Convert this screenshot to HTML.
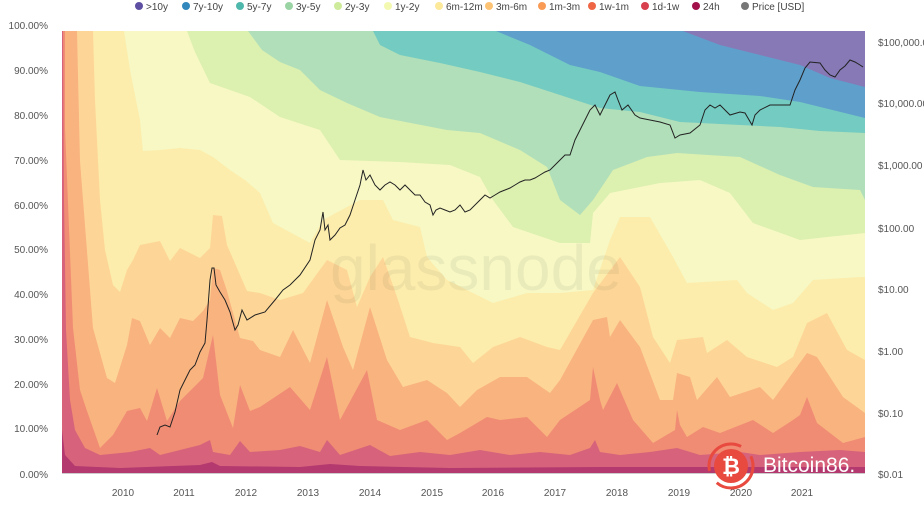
<!DOCTYPE html>
<html><head><meta charset="utf-8"><style>
body{margin:0;background:#fff;width:924px;height:512px;overflow:hidden;font-family:"Liberation Sans",sans-serif}
svg text{font-family:"Liberation Sans",sans-serif}
</style></head><body>
<svg width="924" height="512" viewBox="0 0 924 512" xmlns="http://www.w3.org/2000/svg">
<g font-size="10" fill="#444">
<circle cx="139" cy="6" r="4" fill="#5e4fa2"/><text x="146" y="10">&gt;10y</text>
<circle cx="186" cy="6" r="4" fill="#3288bd"/><text x="193" y="10">7y-10y</text>
<circle cx="240" cy="6" r="4" fill="#4fb8ad"/><text x="247" y="10">5y-7y</text>
<circle cx="289" cy="6" r="4" fill="#9ad4a4"/><text x="296" y="10">3y-5y</text>
<circle cx="338" cy="6" r="4" fill="#cdeb9a"/><text x="345" y="10">2y-3y</text>
<circle cx="388" cy="6" r="4" fill="#f3f9b0"/><text x="395" y="10">1y-2y</text>
<circle cx="439" cy="6" r="4" fill="#fde99a"/><text x="446" y="10">6m-12m</text>
<circle cx="489" cy="6" r="4" fill="#fdc374"/><text x="496" y="10">3m-6m</text>
<circle cx="542" cy="6" r="4" fill="#f99a55"/><text x="549" y="10">1m-3m</text>
<circle cx="592" cy="6" r="4" fill="#ef6645"/><text x="599" y="10">1w-1m</text>
<circle cx="645" cy="6" r="4" fill="#d8404e"/><text x="652" y="10">1d-1w</text>
<circle cx="696" cy="6" r="4" fill="#a3114a"/><text x="703" y="10">24h</text>
<circle cx="745" cy="6" r="4" fill="#777"/><text x="752" y="10">Price [USD]</text>
</g>
<rect x="62" y="31" width="803" height="442" fill="#8679b6"/>
<polygon fill="#5f9fcb" points="62,31 683,31 720,45 760,55 800,65 830,78 865,87 865,473 62,473"/>
<polygon fill="#74cbc1" points="62,31 496,31 530,45 570,65 600,72 640,86 700,92 760,96 800,102 865,118 865,473 62,473"/>
<polygon fill="#b1dfba" points="62,31 373,31 380,45 400,55 440,63 480,72 520,82 560,95 600,108 640,112 680,122 720,124 780,127 820,131 865,133 865,473 62,473"/>
<polygon fill="#dcf0b0" points="62,31 248,31 262,50 280,62 300,70 320,90 347,103 380,117 447,130 480,133 520,150 547,167 560,200 580,215 593,200 613,170 647,157 677,153 740,157 780,175 813,187 860,190 865,200 865,473 62,473"/>
<polygon fill="#f7f8c4" points="62,31 187,31 195,52 210,83 250,97 280,117 320,130 340,160 400,162 450,165 480,177 493,200 513,227 560,243 590,243 593,213 610,193 660,183 700,180 730,193 753,223 800,240 827,237 865,233 865,473 62,473"/>
<polygon fill="#fcedac" points="62,31 124,31 130,70 140,120 143,151 160,150 180,148 200,150 213,157 230,170 245,180 260,193 273,223 310,243 323,220 360,200 383,200 393,220 420,227 427,257 447,280 493,303 527,293 560,293 593,290 610,240 620,217 650,217 673,257 687,283 737,280 747,293 773,310 793,303 813,280 860,277 865,277 865,473 62,473"/>
<polygon fill="#fdd697" points="62,31 93,31 95,100 100,200 105,250 113,285 120,292 127,270 133,260 140,245 160,241 170,261 180,248 200,258 210,248 213,215 222,216 227,245 247,291 260,293 280,300 303,293 327,260 347,270 357,307 370,277 383,257 397,297 410,337 433,343 460,347 473,363 493,347 520,337 547,347 560,350 593,293 620,257 640,287 653,337 670,363 677,340 703,337 707,353 727,340 747,357 777,367 793,357 807,323 827,313 847,350 865,360 865,473 62,473"/>
<polygon fill="#f9b37f" points="62,31 77,31 80,161 93,328 107,378 115,383 127,345 132,318 140,321 150,345 160,328 170,338 180,318 193,321 203,311 210,300 213,268 220,270 227,291 240,338 253,341 260,350 280,357 293,330 310,363 327,300 343,347 353,370 370,307 387,360 403,387 427,380 447,393 460,407 477,390 500,377 527,377 550,393 560,380 593,320 607,317 610,337 620,320 640,347 660,400 673,400 677,373 690,377 697,400 717,377 730,397 760,387 773,400 807,353 817,357 843,397 865,413 865,473 62,473"/>
<polygon fill="#f08c74" points="62,31 65,31 65,128 73,328 80,390 87,411 100,448 113,435 127,411 140,408 147,421 157,388 167,421 180,401 193,388 203,378 213,335 220,395 233,428 240,385 250,411 260,407 290,387 310,410 327,357 340,420 367,370 377,420 400,430 427,420 447,440 460,433 487,417 500,420 527,417 547,437 560,420 590,400 593,367 600,400 603,410 617,383 633,420 653,443 675,430 677,410 680,425 687,437 703,427 720,433 753,420 773,433 793,420 800,415 807,397 817,423 843,443 865,437 865,473 62,473"/>
<polygon fill="#d6637b" points="62,31 63,31 64,200 66,330 70,400 75,430 85,448 100,455 130,452 150,448 160,455 180,450 200,445 210,440 213,452 230,455 240,441 250,452 280,450 300,446 320,452 327,440 340,455 370,445 390,456 420,452 450,455 480,450 510,455 540,452 570,455 590,448 595,440 600,452 620,455 650,452 677,448 700,455 740,452 760,455 800,452 840,450 865,452 865,473 62,473"/>
<polygon fill="#b3396f" points="62,430 65,455 75,466 120,468 200,465 212,462 220,466 300,467 330,464 360,466 450,468 600,467 865,467 865,473 62,473"/>
<text x="330" y="290" font-size="64" fill="rgba(0,0,0,0.05)">glassnode</text>
<polyline fill="none" stroke="#222" stroke-width="1" points="157,435 160,427 165,425 170,427 175,412 180,390 185,380 190,370 195,365 200,352 205,343 207,320 210,280 212,268 214,268 216,285 220,292 225,300 230,312 235,330 238,325 242,310 247,320 255,315 265,312 275,300 283,290 290,285 300,275 310,260 315,240 320,230 323,212 325,230 328,225 330,240 335,235 340,228 345,225 350,215 355,200 360,185 363,170 366,180 370,175 375,185 380,190 385,185 390,182 395,185 400,190 405,185 410,190 415,195 420,195 425,202 430,205 433,215 436,210 440,208 445,210 450,212 455,210 460,205 465,212 470,210 480,200 485,195 490,198 495,195 500,192 505,190 510,188 515,185 520,182 525,180 530,180 535,178 540,175 545,172 550,170 555,165 560,160 565,155 570,155 575,140 580,130 585,120 590,110 595,105 600,115 605,105 610,95 615,92 618,100 622,110 628,105 635,115 640,118 650,120 660,122 670,125 675,138 680,135 690,133 700,125 705,110 710,105 715,108 720,105 725,110 730,115 740,112 745,113 752,125 755,115 760,110 770,105 780,105 790,105 795,90 800,80 805,68 810,62 820,63 825,70 830,75 835,77 840,70 845,66 850,60 855,62 860,65 863,67"/>
<line x1="62" y1="473.5" x2="865" y2="473.5" stroke="#ccc"/>
<g font-size="10" fill="#555" text-anchor="end">
<text x="48" y="29">100.00%</text><text x="48" y="74">90.00%</text><text x="48" y="119">80.00%</text><text x="48" y="164">70.00%</text><text x="48" y="209">60.00%</text><text x="48" y="253">50.00%</text><text x="48" y="298">40.00%</text><text x="48" y="343">30.00%</text><text x="48" y="388">20.00%</text><text x="48" y="432">10.00%</text><text x="48" y="478">0.00%</text>
</g>
<g font-size="10" fill="#555">
<text x="878" y="46">$100,000.00</text><text x="878" y="107">$10,000.00</text><text x="878" y="169">$1,000.00</text><text x="878" y="232">$100.00</text><text x="878" y="293">$10.00</text><text x="878" y="355">$1.00</text><text x="878" y="417">$0.10</text><text x="878" y="478">$0.01</text>
</g>
<g font-size="10" fill="#555" text-anchor="middle">
<text x="123" y="496">2010</text><text x="184" y="496">2011</text><text x="246" y="496">2012</text><text x="308" y="496">2013</text><text x="370" y="496">2014</text><text x="432" y="496">2015</text><text x="493" y="496">2016</text><text x="555" y="496">2017</text><text x="617" y="496">2018</text><text x="679" y="496">2019</text><text x="741" y="496">2020</text><text x="802" y="496">2021</text>
</g>
<circle cx="731" cy="466" r="22" fill="none" stroke="#e84a3f" stroke-width="3" stroke-dasharray="50 14"/>
<circle cx="731" cy="466" r="17" fill="#e84a3f"/>
<text x="731" y="474" font-size="22" font-weight="bold" fill="#fff" text-anchor="middle">₿</text>
<text x="763" y="472" font-size="21" fill="#fff">Bitcoin86.</text>
</svg>
</body></html>
